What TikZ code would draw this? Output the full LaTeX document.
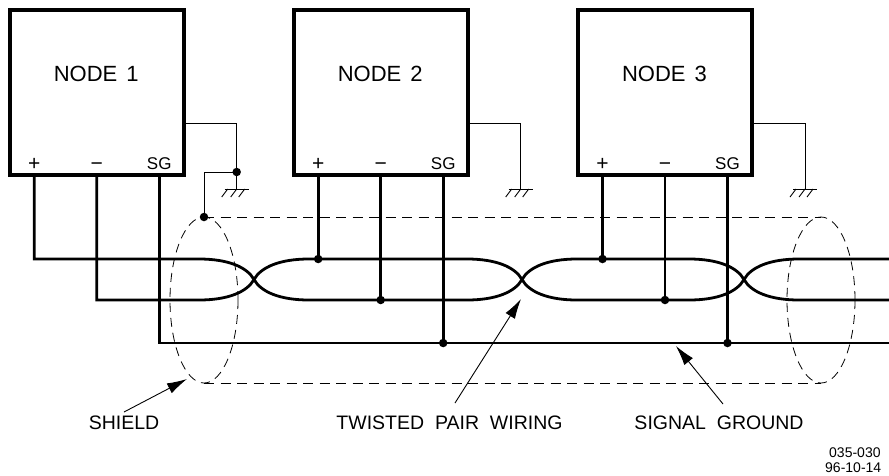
\documentclass[tikz,border=0pt]{standalone}
\usepackage{fontspec}
\setmainfont{Liberation Sans}
\usetikzlibrary{arrows.meta,calc}
\begin{document}
\begin{tikzpicture}[x=1pt,y=-1pt,
  box/.style={draw,line width=3.8pt,minimum width=174pt,minimum height=165pt,outer sep=0pt,inner sep=0pt},
  wire/.style={line width=2.8pt},
  thinw/.style={line width=0.9pt},
  shieldline/.style={line width=0.9pt,dash pattern=on 10pt off 6.5pt},
  shieldell/.style={line width=0.8pt,dash pattern=on 9pt off 6pt},
  jdot/.style={circle,fill,inner sep=0pt,minimum size=8.5pt},
  nodetxt/.style={font=\fontsize{22}{24}\selectfont,inner sep=0pt,anchor=base},
  pintxt/.style={font=\fontsize{17}{18}\selectfont,inner sep=0pt,anchor=base},
  symtxt/.style={font=\fontsize{21}{22}\selectfont,inner sep=0pt,anchor=base},
  lbl/.style={font=\fontsize{19.5}{21}\selectfont,inner sep=0pt,anchor=base},
  codetxt/.style={font=\fontsize{14}{15}\selectfont,inner sep=0pt,anchor=base west},
  callout/.style={line width=0.9pt,-{Latex[length=20pt,width=11pt]}},
  pics/grnd/.style={code={
    \draw[line width=0.9pt] (-12,0) -- (12,0);
    \foreach \t in {-9,0,8} \draw[line width=0.9pt] (\t,0) -- ++(-6,8);
  }}]
\fill[white] (0,0) rectangle (889,475);
\useasboundingbox (0,0) rectangle (889,475);

% nodes, pin labels, earth wiring
\foreach \i/\l in {1/9.7,2/293.7,3/578}{
  \node[box] (n\i) at (\l+87,92.8) {};
  \node[nodetxt] (t\i) at (\l+86.5,81) {NODE\hspace{9pt}\i};
  \coordinate (plus\i) at (\l+24.5,175.3);
  \coordinate (minus\i) at (\l+87,175.3);
  \coordinate (sg\i) at (\l+149.5,175.3);
  \node[symtxt] (lp\i) at (\l+24.5,170.5) {+};
  \node[symtxt] (lm\i) at (\l+87,170.5) {−};
  \node[pintxt] (ls\i) at (\l+149.5,169.3) {SG};
  \coordinate (gw\i) at (\l+174,123);
  \coordinate (gc\i) at (\l+227,123);
  \coordinate (gg\i) at (\l+227,189);
  \draw[thinw] (gw\i) -- (gc\i) -- (gg\i);
  \pic at (gg\i) {grnd};
}

% crossings and rail ends
\coordinate (X1) at (254,279.5);
\coordinate (X2) at (522,279.5);
\coordinate (X3) at (744,279.5);
\coordinate (EA) at (889,300);
\coordinate (EB) at (889,259);
\coordinate (EG) at (889,343);

% twisted pair
\draw[wire] (plus1) |- (199,259) .. controls (228,259) and (247,267) .. (X1)
  .. controls (261,292) and (280,300) .. (309,300) -- (467,300)
  .. controls (496,300) and (515,292) .. (X2)
  .. controls (529,267) and (548,259) .. (577,259) -- (689,259)
  .. controls (718,259) and (737,267) .. (X3)
  .. controls (751,292) and (770,300) .. (799,300) -- (EA);
\draw[wire] (minus1) |- (199,300) .. controls (228,300) and (247,292) .. (X1)
  .. controls (261,267) and (280,259) .. (309,259) -- (467,259)
  .. controls (496,259) and (515,267) .. (X2)
  .. controls (529,292) and (548,300) .. (577,300) -- (689,300)
  .. controls (718,300) and (737,292) .. (X3)
  .. controls (751,267) and (770,259) .. (799,259) -- (EB);
% signal ground
\draw[wire] (sg1) |- (EG);

% drops of node 2 and node 3
\foreach \i/\l in {2/293.7,3/578}{
  \coordinate (jp\i) at (\l+24.5,259);
  \coordinate (jm\i) at (\l+87,300);
  \coordinate (js\i) at (\l+149.5,343);
  \draw[wire] (plus\i) -- (jp\i);
  \draw[wire] (minus\i) -- (jm\i);
  \draw[wire] (sg\i) -- (js\i);
  \node[jdot] (dp\i) at (jp\i) {};
  \node[jdot] (dm\i) at (jm\i) {};
  \node[jdot] (ds\i) at (js\i) {};
}

% shield
\coordinate (S1) at (204,217);
\coordinate (S1b) at (204,383);
\coordinate (S2) at (821,217);
\coordinate (S2b) at (821,383);
\draw[shieldline] (S1) -- (S2);
\draw[shieldline] (S1b) -- (S2b);
\draw[shieldell] (204,300) ellipse [x radius=34, y radius=83];
\draw[shieldell] (821,300) ellipse [x radius=34, y radius=83];
\coordinate (GJ) at (236.7,172);
\draw[thinw] (GJ) -| (S1);
\node[jdot] (dg) at (GJ) {};
\node[jdot] (dsh) at (S1) {};

% callouts
\node[lbl] (shl) at (124,429) {SHIELD};
\node[lbl] (tpl) at (449.5,429) {TWISTED\ \ PAIR\ \ WIRING};
\node[lbl] (sgl) at (719,429) {SIGNAL\ \ GROUND};
\coordinate (a1s) at (124,412);
\coordinate (a1e) at (187,379);
\coordinate (a2s) at (455,403);
\coordinate (a2e) at (521,299);
\coordinate (a3s) at (723,404);
\coordinate (a3e) at (676,346);
\draw[callout] (a1s) -- (a1e);
\draw[callout] (a2s) -- (a2e);
\draw[callout] (a3s) -- (a3e);

% drawing code
\node[codetxt] (c1) at (829,457) {035-030};
\node[codetxt] (c2) at (825,472) {96-10-14};
\end{tikzpicture}
\end{document}
